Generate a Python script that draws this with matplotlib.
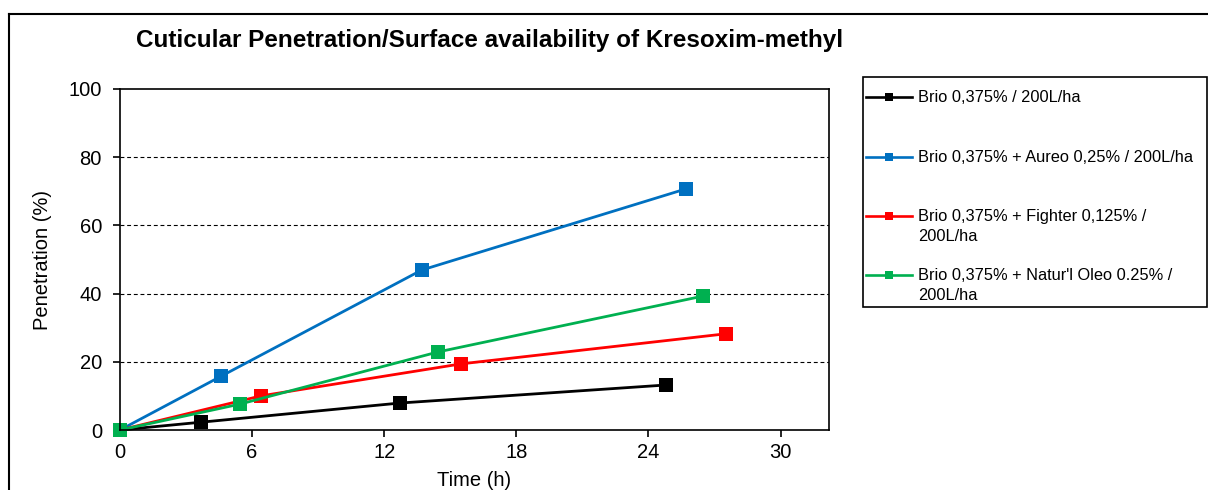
import matplotlib
matplotlib.use("Agg")
import matplotlib.pyplot as plt
from matplotlib.lines import Line2D
from matplotlib.patches import Rectangle

plt.rcParams['font.family'] = ['Liberation Sans', 'DejaVu Sans']

# ---- data ----
series_labels = [
    "Brio 0,375% / 200L/ha",
    "Brio 0,375% + Aureo 0,25% / 200L/ha",
    "Brio 0,375% + Fighter 0,125% /\n200L/ha",
    "Brio 0,375% + Natur'l Oleo 0.25% /\n200L/ha",
]
series_colors = ["#000000", "#0070C0", "#FF0000", "#00B050"]

time_black = [0, 3.7, 12.7, 24.8]
pen_black = [0, 2.3, 7.9, 13.2]
time_blue = [0, 4.6, 13.7, 25.7]
pen_blue = [0, 15.8, 46.9, 70.7]
time_red = [0, 6.4, 15.5, 27.5]
pen_red = [0, 10.0, 19.4, 28.2]
time_green = [0, 5.45, 14.45, 26.5]
pen_green = [0, 7.6, 22.9, 39.3]

xticks = [0, 6, 12, 18, 24, 30]
yticks = [0, 20, 40, 60, 80, 100]
title = "Cuticular Penetration/Surface availability of Kresoxim-methyl"
xlabel = "Time (h)"
ylabel = "Penetration (%)"

series_x = [time_black, time_blue, time_red, time_green]
series_y = [pen_black, pen_blue, pen_red, pen_green]

W, H = 1208, 490
fig = plt.figure(figsize=(W / 100, H / 100), dpi=100)

def fx(px):
    return px / W

def fy(py):
    return 1 - py / H

ax = fig.add_axes([fx(120), fy(430), fx(829) - fx(120), fy(89) - fy(430)])

for xs, ys, c in zip(series_x, series_y, series_colors):
    ax.plot(xs, ys, color=c, lw=2.0, marker='s', markersize=10,
            markeredgewidth=0, clip_on=False)

ax.set_xlim(0, 32.2)
ax.set_ylim(0, 100)
ax.set_xticks(xticks)
ax.set_yticks(yticks)
for yv in yticks[1:-1]:
    ax.axhline(yv, color='#000000', lw=0.8, ls=(0, (3.5, 2.5)), zorder=0.5)

for s in ax.spines.values():
    s.set_linewidth(1.2)
    s.set_color('#000000')
ax.tick_params(direction='out', length=5, width=1.2, labelsize=14.5,
               colors='#000000')
ax.tick_params(axis='y', pad=8)
ax.tick_params(axis='x', pad=4)
ax.set_xlabel(xlabel, fontsize=14.5, labelpad=7)
ax.set_ylabel(ylabel, fontsize=14.5, labelpad=12)

fig.text(fx(490), fy(40), title, fontsize=17.5, fontweight='bold',
         ha='center', va='center')

# outer frame (chart area border)
fig.add_artist(Line2D([fx(9), 1.0], [fy(14), fy(14)], transform=fig.transFigure,
                      color='#000000', lw=1.5))
fig.add_artist(Line2D([fx(9), fx(9)], [fy(14), 0.0], transform=fig.transFigure,
                      color='#000000', lw=1.5))

# legend box
fig.add_artist(Rectangle((fx(863), fy(307)), fx(1207) - fx(863), fy(77) - fy(307),
                         transform=fig.transFigure, fill=False,
                         edgecolor='#000000', lw=1.2))
entry_y = [97, 157, 216, 275]
for lbl, c, ey in zip(series_labels, series_colors, entry_y):
    fig.add_artist(Line2D([fx(866), fx(912)], [fy(ey), fy(ey)],
                          transform=fig.transFigure, color=c, lw=1.9))
    fig.add_artist(Line2D([fx(889)], [fy(ey)], transform=fig.transFigure,
                          color=c, marker='s', markersize=5.5, markeredgewidth=0))
    for k, line in enumerate(lbl.split("\n")):
        fig.text(fx(918), fy(ey + 20 * k), line, fontsize=11.8,
                 ha='left', va='center')

fig.savefig("out.png", dpi=100)
